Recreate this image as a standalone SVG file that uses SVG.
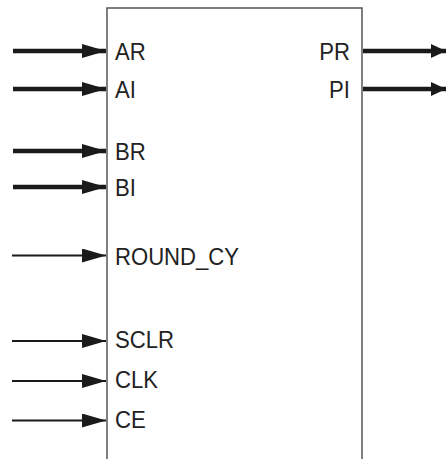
<svg xmlns="http://www.w3.org/2000/svg" width="446" height="459" viewBox="0 0 446 459">
<style>
text{font-family:"Liberation Sans",Arial,sans-serif;font-size:24px;fill:#222}
.thick{stroke:#1a1a1a;stroke-width:4.5;fill:none}
.thin{stroke:#1a1a1a;stroke-width:1.8;fill:none}
.box{fill:#fff;stroke:#555;stroke-width:1.5}
</style>
<defs>
<marker id="hd" markerUnits="userSpaceOnUse" markerWidth="24" markerHeight="14" refX="24" refY="7" orient="auto" viewBox="0 0 24 14">
<path d="M0,0 L24,7 L0,14 Z" fill="#1a1a1a"/>
</marker>
<marker id="hdo" markerUnits="userSpaceOnUse" markerWidth="15" markerHeight="14" refX="15" refY="7" orient="auto" viewBox="0 0 15 14">
<path d="M0,0 L15,7 L0,14 Z" fill="#1a1a1a"/>
</marker>
</defs>
<g id="block">
<path class="box" d="M107,460 V8 H362 V460"/>
<text x="115" y="60" textLength="30.7" lengthAdjust="spacingAndGlyphs">AR</text>
<text x="115" y="98" textLength="20.9" lengthAdjust="spacingAndGlyphs">AI</text>
<text x="115" y="160" textLength="30.7" lengthAdjust="spacingAndGlyphs">BR</text>
<text x="115" y="196" textLength="20.9" lengthAdjust="spacingAndGlyphs">BI</text>
<text x="115" y="265" textLength="124" lengthAdjust="spacingAndGlyphs">ROUND_CY</text>
<text x="115" y="348" textLength="59" lengthAdjust="spacingAndGlyphs">SCLR</text>
<text x="115" y="388" textLength="43" lengthAdjust="spacingAndGlyphs">CLK</text>
<text x="115" y="428" textLength="30.7" lengthAdjust="spacingAndGlyphs">CE</text>
<text x="350" y="60" text-anchor="end" textLength="30.7" lengthAdjust="spacingAndGlyphs">PR</text>
<text x="350" y="98" text-anchor="end" textLength="20.9" lengthAdjust="spacingAndGlyphs">PI</text>
</g>
<g id="connectors">
<line class="thick" x1="13" y1="51" x2="106" y2="51" marker-end="url(#hd)"/>
<line class="thick" x1="13" y1="89" x2="106" y2="89" marker-end="url(#hd)"/>
<line class="thick" x1="13" y1="151" x2="106" y2="151" marker-end="url(#hd)"/>
<line class="thick" x1="13" y1="187" x2="106" y2="187" marker-end="url(#hd)"/>
<line class="thin" x1="12" y1="255.5" x2="106" y2="255.5" marker-end="url(#hd)"/>
<line class="thin" x1="12" y1="341" x2="106" y2="341" marker-end="url(#hd)"/>
<line class="thin" x1="12" y1="381" x2="106" y2="381" marker-end="url(#hd)"/>
<line class="thin" x1="12" y1="420.5" x2="106" y2="420.5" marker-end="url(#hd)"/>
<line class="thick" x1="363" y1="51" x2="446" y2="51" marker-end="url(#hdo)"/>
<line class="thick" x1="363" y1="89" x2="446" y2="89" marker-end="url(#hdo)"/>
</g>
</svg>
